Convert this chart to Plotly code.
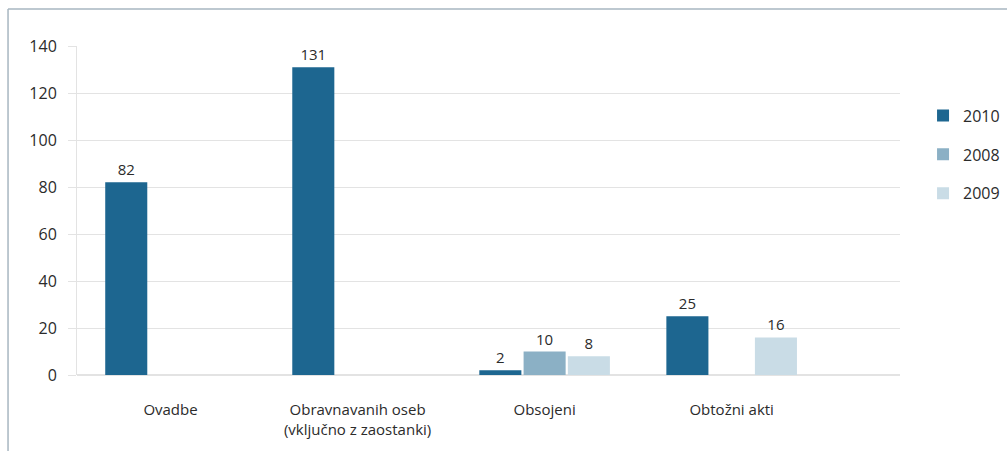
import plotly.graph_objects as go

#%% DATA

categories = ["Ovadbe", "Obravnavanih oseb<br>(vključno z zaostanki)", "Obsojeni", "Obtožni akti"]
years = ["2010", "2008", "2009"]
values_2010 = [82, 131, 2, 25]
values_2008 = [None, None, 10, None]
values_2009 = [None, None, 8, 16]
y_ticks = [0, 20, 40, 60, 80, 100, 120, 140]

colors = ["#1d6690", "#8bb0c5", "#c9dce6"]
FONT = "Open Sans"
TXT = "#2b2b2b"

#%% FIGURE

fig = go.Figure()

for name, vals, col in zip(years, [values_2010, values_2008, values_2009], colors):
    fig.add_trace(go.Bar(
        x=categories,
        y=vals,
        name=name,
        legendgroup=name,
        marker_color=col,
        marker_line_width=0,
        text=[v if v is not None else "" for v in vals],
        textposition="outside",
        textfont=dict(size=15, color=TXT, family=FONT),
        cliponaxis=False,
    ))

# frame line (top + left)
fig.add_shape(type="line", xref="paper", yref="paper",
              x0=-0.0838, x1=-0.0838, y0=-0.25, y1=1.1125,
              line=dict(color="#a7b6c0", width=1.5))
fig.add_shape(type="line", xref="paper", yref="paper",
              x0=-0.0838, x1=1.2, y0=1.1125, y1=1.1125,
              line=dict(color="#a7b6c0", width=1.5))

fig.update_layout(
    width=1007,
    height=451,
    margin=dict(l=77, r=107, t=46, b=76, autoexpand=False),
    paper_bgcolor="white",
    plot_bgcolor="white",
    font=dict(family=FONT, size=15, color=TXT),
    barmode="group",
    bargap=0.29,
    bargroupgap=0.05,
    showlegend=True,
    legend=dict(
        x=1.028, y=0.84, xanchor="left", yanchor="top",
        font=dict(size=16, color=TXT, family=FONT),
        tracegroupgap=15,
        itemwidth=30,
    ),
    xaxis=dict(
        range=[-0.5, 3.9],
        showgrid=False,
        showline=False,
        ticks="",
        ticklabelstandoff=24,
        tickfont=dict(size=15, color=TXT),
    ),
    yaxis=dict(
        range=[0, 140],
        tickvals=y_ticks,
        showgrid=True,
        gridcolor="#e3e3e3",
        gridwidth=1,
        zeroline=True,
        zerolinecolor="#e3e3e3",
        showline=True,
        linecolor="#e3e3e3",
        ticks="outside",
        ticklen=8,
        tickcolor="#e3e3e3",
        ticklabelstandoff=8,
        tickfont=dict(size=16, color=TXT),
    ),
)

fig.write_html("out.html", config={"displayModeBar": False},
               post_script="document.body.style.margin='0';")
